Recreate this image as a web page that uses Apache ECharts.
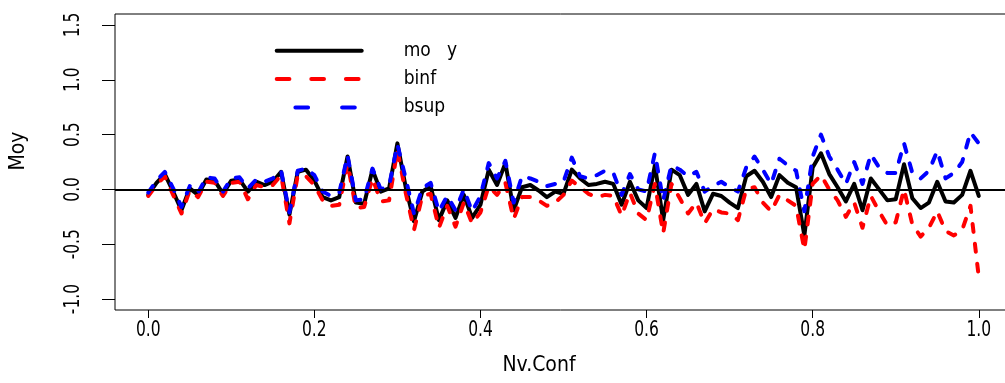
<!DOCTYPE html>
<html><head><meta charset="utf-8">
<script src="https://cdn.jsdelivr.net/npm/echarts@6/dist/echarts.min.js"></script>
<style>html,body{margin:0;padding:0;background:#fff}#c{width:1005px;height:383px}</style>
</head><body><div id="c"></div>
<script>
const nvConf = [0.00,0.01,0.02,0.03,0.04,0.05,0.06,0.07,0.08,0.09,
0.10,0.11,0.12,0.13,0.14,0.15,0.16,0.17,0.18,0.19,
0.20,0.21,0.22,0.23,0.24,0.25,0.26,0.27,0.28,0.29,
0.30,0.31,0.32,0.33,0.34,0.35,0.36,0.37,0.38,0.39,
0.40,0.41,0.42,0.43,0.44,0.45,0.46,0.47,0.48,0.49,
0.50,0.51,0.52,0.53,0.54,0.55,0.56,0.57,0.58,0.59,
0.60,0.61,0.62,0.63,0.64,0.65,0.66,0.67,0.68,0.69,
0.70,0.71,0.72,0.73,0.74,0.75,0.76,0.77,0.78,0.79,
0.80,0.81,0.82,0.83,0.84,0.85,0.86,0.87,0.88,0.89,
0.90,0.91,0.92,0.93,0.94,0.95,0.96,0.97,0.98,0.99,1.00];

const moy = [-0.05,0.06,0.14,-0.02,-0.19,0.01,-0.05,0.09,0.08,-0.04,
0.08,0.09,-0.02,0.07,0.04,0.07,0.16,-0.23,0.16,0.18,
0.08,-0.07,-0.10,-0.07,0.30,-0.12,-0.13,0.18,-0.02,0.01,
0.42,0.02,-0.29,-0.02,0.03,-0.28,-0.10,-0.26,-0.05,-0.26,
-0.14,0.18,0.04,0.24,-0.19,0.02,0.04,-0.01,-0.07,-0.02,
-0.04,0.18,0.10,0.04,0.05,0.07,0.05,-0.14,0.07,-0.10,
-0.17,0.22,-0.28,0.18,0.13,-0.05,0.05,-0.20,-0.04,-0.06,
-0.12,-0.17,0.12,0.17,0.07,-0.07,0.13,0.06,0.02,-0.42,
0.20,0.33,0.14,0.02,-0.11,0.05,-0.19,0.10,0.00,-0.10,
-0.09,0.23,-0.08,-0.17,-0.12,0.07,-0.11,-0.12,-0.05,0.17,-0.06];

const binf = [-0.06,0.04,0.12,-0.05,-0.22,-0.01,-0.07,0.07,0.06,-0.06,
0.06,0.07,-0.09,0.04,0.02,0.04,0.13,-0.31,0.13,0.12,
0.04,-0.10,-0.15,-0.14,0.24,-0.17,-0.16,0.10,-0.11,-0.10,
0.36,-0.03,-0.37,-0.06,-0.04,-0.35,-0.15,-0.34,-0.12,-0.31,
-0.21,0.03,-0.05,0.06,-0.27,-0.07,-0.07,-0.10,-0.15,-0.12,
-0.05,0.08,0.02,-0.04,-0.07,-0.05,-0.06,-0.24,-0.03,-0.22,
-0.28,0.05,-0.40,0.05,-0.08,-0.22,-0.12,-0.31,-0.18,-0.21,
-0.22,-0.28,0.00,0.02,-0.12,-0.20,-0.05,-0.10,-0.15,-0.55,
0.05,0.13,0.00,-0.10,-0.25,-0.12,-0.35,-0.06,-0.20,-0.33,
-0.30,0.00,-0.32,-0.43,-0.35,-0.20,-0.38,-0.42,-0.37,-0.15,-0.80];

const bsup = [-0.03,0.08,0.16,0.01,-0.16,0.03,-0.03,0.11,0.10,-0.02,
0.10,0.11,0.01,0.09,0.07,0.10,0.17,-0.21,0.17,0.19,
0.13,-0.02,-0.06,-0.03,0.31,-0.10,-0.09,0.19,0.00,0.03,
0.41,0.10,-0.22,0.01,0.06,-0.20,-0.06,-0.19,0.00,-0.20,
-0.06,0.24,0.10,0.26,-0.12,0.12,0.10,0.07,0.03,0.05,
0.07,0.29,0.12,0.10,0.13,0.17,0.15,-0.05,0.14,0.00,
-0.02,0.33,-0.10,0.22,0.18,0.12,0.16,-0.02,0.03,0.07,
0.02,-0.02,0.20,0.30,0.18,0.05,0.28,0.22,0.17,-0.20,
0.30,0.50,0.30,0.18,0.05,0.25,0.05,0.32,0.20,0.15,
0.15,0.42,0.15,0.10,0.17,0.35,0.10,0.15,0.25,0.52,0.42];

const xTicks = [0, 0.2, 0.4, 0.6, 0.8, 1.0];
const yTicks = [-1, -0.5, 0, 0.5, 1, 1.5];
const seriesNames = ['mo   y', 'binf', 'bsup'];
const xTitle = 'Nv.Conf';
const yTitle = 'Moy';

const pairs = ys => nvConf.map((x, i) => [x, ys[i]]);
const F = "'DejaVu Sans Condensed','DejaVu Sans',sans-serif";

const chart = echarts.init(document.getElementById('c'), null, {renderer: 'canvas'});
chart.setOption({
  animation: false,
  backgroundColor: '#fff',
  grid: {left: 115, top: 14, width: 897, height: 296, outerBoundsMode: 'none', containLabel: false,
         show: true, borderColor: '#000', borderWidth: 1, backgroundColor: 'transparent'},
  xAxis: {
    type: 'value', min: -0.04, max: 1.04,
    axisLine: {show: false, onZero: false}, splitLine: {show: false},
    axisTick: {show: true, customValues: xTicks, length: 8, lineStyle: {color: '#000', width: 1}},
    axisLabel: {show: false}
  },
  yAxis: {
    type: 'value', min: -1.1, max: 1.6,
    axisLine: {show: false, onZero: false}, splitLine: {show: false},
    axisTick: {show: true, customValues: yTicks, length: 13, lineStyle: {color: '#000', width: 1}},
    axisLabel: {show: false}
  },
  legend: {
    orient: 'vertical', left: 274.7, top: 41.3, padding: 0,
    itemWidth: 85, itemHeight: 14, itemGap: 9.3,
    itemStyle: {opacity: 0, borderWidth: 0},
    textStyle: {fontFamily: F, fontSize: 19, color: '#000', lineHeight: 14, padding: [0, 0, 0, 37]},
    data: [
      {name: seriesNames[0], lineStyle: {width: 4, type: 'solid', cap: 'round'}},
      {name: seriesNames[1], lineStyle: {width: 4, type: [12.7, 21.9], cap: 'round'}},
      {name: seriesNames[2], lineStyle: {width: 4, type: [12.7, 34], dashOffset: 28, cap: 'round'}}
    ]
  },
  series: [
    {name: seriesNames[0], type: 'line', data: pairs(moy), symbol: 'none', showSymbol: false,
     lineStyle: {color: '#000', width: 4, cap: 'round', join: 'round'}, itemStyle: {color: '#000'}},
    {name: seriesNames[1], type: 'line', data: pairs(binf), symbol: 'none', showSymbol: false,
     lineStyle: {color: '#ff0000', width: 4, type: [8, 12], cap: 'round', join: 'round'}, itemStyle: {color: '#ff0000'}},
    {name: seriesNames[2], type: 'line', data: pairs(bsup), symbol: 'none', showSymbol: false,
     lineStyle: {color: '#0000ff', width: 4, type: [8, 12], cap: 'round', join: 'round'}, itemStyle: {color: '#0000ff'},
     markLine: {silent: true, symbol: ['none', 'none'], label: {show: false},
       lineStyle: {color: '#000', width: 2, type: 'solid'}, data: [{yAxis: 0}]}}
  ]
});

// Tick labels placed through the axes' own scales (narrowed to match the reference face)
const textBase = {fontFamily: F, fontSize: 21, fill: '#000', textAlign: 'center', textVerticalAlign: 'middle'};
const els = [
  {type: 'text', x: 539, y: 366, style: Object.assign({}, textBase, {text: xTitle})},
  {type: 'text', x: 19, y: 151, rotation: Math.PI / 2, style: Object.assign({}, textBase, {text: yTitle})}
];
xTicks.forEach(v => {
  const px = chart.convertToPixel({xAxisIndex: 0}, v);
  els.push({type: 'text', x: px, y: 331, scaleX: 0.82, style: Object.assign({}, textBase, {text: v.toFixed(1)})});
});
yTicks.forEach(v => {
  const py = chart.convertToPixel({yAxisIndex: 0}, v);
  els.push({type: 'text', x: 74, y: py, rotation: Math.PI / 2, scaleX: 0.82, style: Object.assign({}, textBase, {text: v.toFixed(1)})});
});
chart.setOption({graphic: {elements: els}});
</script></body></html>
